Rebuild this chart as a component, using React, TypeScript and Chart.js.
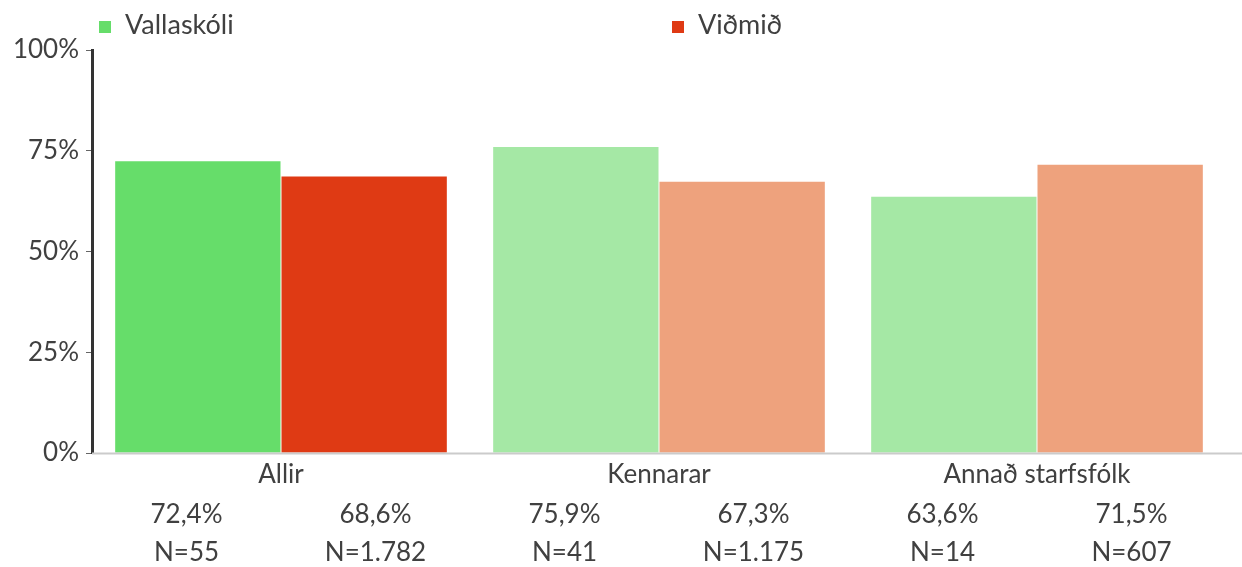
import React, { useEffect, useRef } from "react";
import { Chart, registerables } from "chart.js";

Chart.register(...registerables);

const categories = ["Allir", "Kennarar", "Annað starfsfólk"];
const seriesNames = ["Vallaskóli", "Viðmið"];
const vallaskoli = [72.4, 75.9, 63.6];
const vidmid = [68.6, 67.3, 71.5];
const vallaskoliN = ["55", "41", "14"];
const vidmidN = ["1.782", "1.175", "607"];
const vallaskoliColors = ["#66DD6A", "#A5E8A5", "#A5E8A5"];
const vidmidColors = ["#DF3A14", "#EEA27D", "#EEA27D"];
const legendColors = ["#66DD6A", "#DF3A14"];
const yTicks = [0, 25, 50, 75, 100];

const FONT = "Lato, 'Open Sans', sans-serif";
const TEXT = "#404040";

const fmt = (v: number) => v.toFixed(1).replace(".", ",") + "%";

const bottomLabels: string[][] = [];
categories.forEach((_, i) => {
  bottomLabels.push([fmt(vallaskoli[i]), "N=" + vallaskoliN[i]]);
  bottomLabels.push([fmt(vidmid[i]), "N=" + vidmidN[i]]);
});

const baseLine = {
  id: "baseLine",
  afterDatasetsDraw(chart: any) {
    const { ctx, chartArea } = chart;
    ctx.save();
    ctx.strokeStyle = "#cbcbcb";
    ctx.lineWidth = 2;
    ctx.beginPath();
    ctx.moveTo(chartArea.left, chartArea.bottom + 0.5);
    ctx.lineTo(chart.width, chartArea.bottom + 0.5);
    ctx.stroke();
    ctx.restore();
  },
};

export default function App() {
  const ref = useRef<HTMLCanvasElement>(null);

  useEffect(() => {
    document.body.style.margin = "0";
    const ctx = ref.current!.getContext("2d")!;
    const chart = new Chart(ctx, {
      type: "bar",
      data: {
        labels: categories,
        datasets: [
          {
            label: seriesNames[0],
            data: vallaskoli,
            backgroundColor: vallaskoliColors,
            borderWidth: 0,
            barPercentage: 0.994,
            categoryPercentage: 0.88,
          },
          {
            label: seriesNames[1],
            data: vidmid,
            backgroundColor: vidmidColors,
            borderWidth: 0,
            barPercentage: 0.994,
            categoryPercentage: 0.88,
          },
        ],
      },
      plugins: [baseLine],
      options: {
        animation: false,
        responsive: false,
        maintainAspectRatio: false,
        layout: { padding: { top: 50, right: 16, left: 12, bottom: 0 } },
        plugins: { legend: { display: false }, tooltip: { enabled: false } },
        scales: {
          y: {
            min: 0,
            max: 100,
            afterFit: (s: any) => {
              s.width = 80;
            },
            afterBuildTicks: (s: any) => {
              s.ticks = yTicks.map((v) => ({ value: v }));
            },
            ticks: {
              callback: (v: any) => v + "%",
              font: { family: FONT, size: 26 },
              color: TEXT,
              padding: 7,
            },
            grid: {
              display: true,
              drawOnChartArea: false,
              drawTicks: true,
              tickLength: 6,
              tickColor: "#666",
              tickWidth: 1,
            },
            border: { display: true, color: "#333", width: 3 },
          },
          x: {
            position: "bottom",
            afterFit: (s: any) => {
              s.height = 36;
            },
            ticks: {
              font: { family: FONT, size: 26, lineHeight: 1.2 },
              color: TEXT,
              padding: 6,
              maxRotation: 0,
              autoSkip: false,
            },
            grid: { display: false, drawTicks: false },
            border: { display: false },
          },
          x2: {
            type: "category",
            position: "bottom",
            labels: bottomLabels as any,
            offset: true,
            afterFit: (s: any) => {
              s.height = 78;
            },
            ticks: {
              font: { family: FONT, size: 26, lineHeight: 1.46 },
              color: TEXT,
              padding: 7,
              maxRotation: 0,
              autoSkip: false,
            },
            grid: { display: false, drawTicks: false },
            border: { display: false },
          },
        },
      } as any,
    });
    return () => chart.destroy();
  }, []);

  return (
    <div style={{ position: "fixed", left: 0, top: 0, width: 1242, height: 567, background: "#fff" }}>
      <canvas ref={ref} width={1242} height={567} style={{ display: "block" }} />
      {seriesNames.map((name, i) => (
        <div
          key={name}
          style={{
            position: "absolute",
            left: i === 0 ? 99 : 672,
            top: 6,
            display: "flex",
            alignItems: "center",
            fontFamily: FONT,
            fontSize: 27,
            color: TEXT,
            lineHeight: "36px",
          }}
        >
          <span style={{ display: "inline-block", width: 12, height: 12, background: legendColors[i], marginRight: 14, marginTop: 6 }} />
          <span>{name}</span>
        </div>
      ))}
    </div>
  );
}
